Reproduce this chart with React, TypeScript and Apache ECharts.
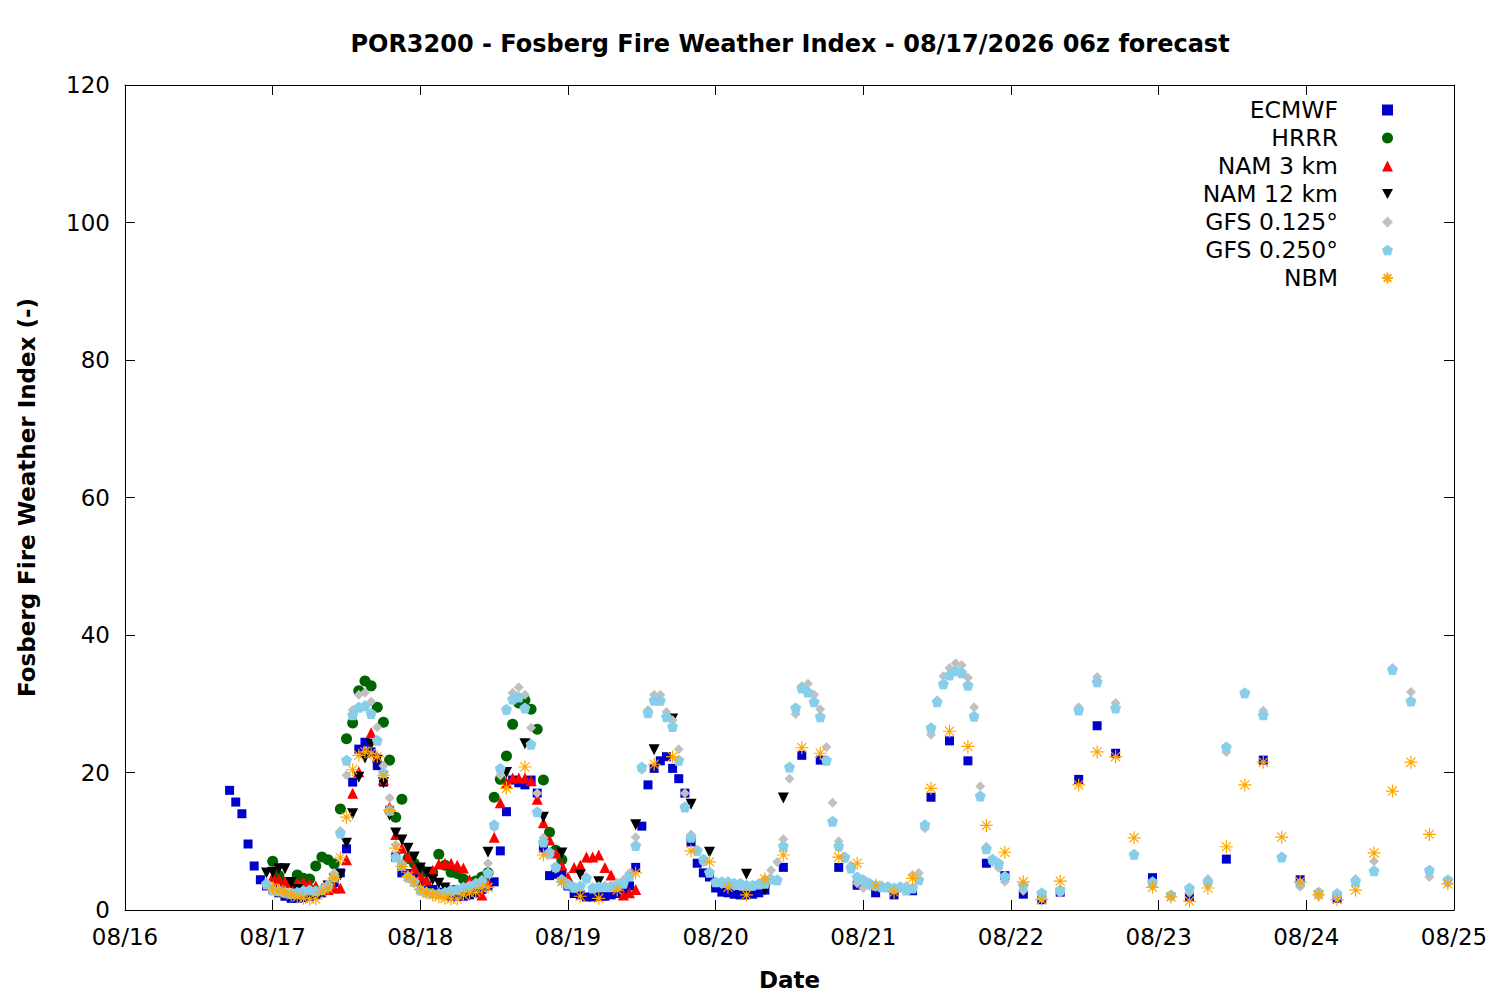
import React, { useEffect, useRef } from 'react';
import * as echarts from 'echarts';

// Hours since 08/16 00:00 (local) on the x axis
const xTickLabels = ['08/16', '08/17', '08/18', '08/19', '08/20', '08/21', '08/22', '08/23', '08/24', '08/25'];
const yTicks = [0, 20, 40, 60, 80, 100, 120];

const titleText = 'POR3200 - Fosberg Fire Weather Index - 08/17/2026 06z forecast';

// ECMWF: hourly from h17, 3-hourly from h107, 6-hourly from h167
const ecmwfHourlyStart = 17;
const ecmwfHourly = [
  17.4, 15.7, 14.0, 9.6, 6.4, 4.4, 3.5, 3.0, 2.5, 2.0,
  1.7, 1.7, 1.8, 2.0, 2.2, 2.5, 3.0, 4.0, 5.4, 8.9,
  18.6, 23.4, 24.4, 23.0, 21.0, 18.6, 14.5, 7.7, 5.4, 5.3,
  5.1, 4.0, 3.5, 3.0, 2.6, 2.3, 2.0, 2.0, 2.0, 2.2,
  2.5, 3.0, 3.5, 4.1, 8.6, 14.3, 18.9, 18.5, 18.2, 18.9,
  17.0, 9.0, 5.0, 5.2, 5.4, 3.5, 2.4, 2.2, 1.9, 1.9,
  2.0, 2.0, 2.2, 2.4, 2.8, 3.5, 6.2, 12.2, 18.2, 20.6,
  21.7, 22.3, 20.6, 19.1, 17.0, 9.9, 6.8, 5.4, 4.8, 3.2,
  2.6, 2.5, 2.3, 2.2, 2.2, 2.3, 2.5, 2.9,
];
const ecmwf3hStart = 107;
const ecmwf3h = [6.2, 22.5, 21.8, 6.2, 3.6, 2.5, 2.2, 2.8, 16.4, 24.6, 21.7, 6.8, 5.0, 2.3, 1.5, 2.6, 19.0, 26.8, 22.8];
const ecmwf6hStart = 167;
const ecmwf6h = [4.7, 1.9, 7.4, 21.8, 4.4, 1.7];

// HRRR: hourly from h24
const hrrrStart = 24;
const hrrr = [
  7.1, 5.0, 4.0, 4.0, 5.1, 4.6, 4.5, 6.4, 7.7, 7.3,
  6.7, 14.7, 24.9, 27.2, 31.9, 33.3, 32.6, 29.5, 27.3, 21.8,
  13.5, 16.1, 7.5, 6.8, 6.0, 5.5, 5.5, 8.1, 6.5, 5.5,
  5.3, 4.5, 4.0, 4.2, 4.8, 5.4, 16.4, 19.0, 22.4, 27.0,
  30.1, 30.5, 29.2, 26.3, 18.9, 11.3, 8.7, 7.3,
];

// NAM 3 km: hourly from h24
const nam3Start = 24;
const nam3 = [
  4.8, 4.5, 4.1, 4.0, 3.9, 4.1, 3.8, 3.5, 3.2, 3.0,
  3.2, 3.2, 7.3, 17.0, 20.1, 23.0, 25.8, 22.3, 19.0, 15.0,
  11.0, 9.0, 7.7, 6.0, 5.0, 4.4, 5.8, 6.7, 6.8, 6.8,
  6.5, 6.1, 4.4, 3.0, 2.2, 4.0, 10.6, 15.6, 18.5, 19.2,
  19.2, 19.2, 18.8, 16.1, 12.7, 10.2, 8.3, 6.5, 4.8, 6.2,
  6.5, 7.7, 7.7, 8.0, 6.2, 5.1, 3.5, 2.2, 2.5, 3.0,
];

// NAM 12 km: hourly from h23, then 3-hourly from h62
const nam12HourlyStart = 23;
const nam12Hourly = [
  5.4, 5.5, 6.0, 6.0, 4.0, 3.0, 2.5, 2.2, 2.2, 2.6,
  3.5, 4.5, 5.1, 9.7, 14.0, 19.3, 22.1, 24.1, 21.8, 18.5,
  13.8, 11.2, 10.2, 9.0, 7.7, 6.1, 5.5, 4.4, 3.9, 3.2,
  2.8, 2.4, 2.2, 2.2, 2.5, 3.5, 8.4,
];
const nam12_3hStart = 62;
const nam12_3h = [20.0, 24.2, 13.5, 8.3, 5.1, 4.1, 3.0, 12.4, 23.3, 27.8, 15.4, 8.4, 3.5, 5.2, 2.9, 16.3];

// GFS 0.125°: hourly from h23, 3-hourly from h146
const gfs125HourlyStart = 23;
const gfs125Hourly = [
  4.0, 3.0, 2.7, 2.5, 2.3, 2.4, 2.6, 2.8, 2.7, 3.0,
  3.8, 5.4, 11.5, 19.6, 29.1, 31.3, 31.6, 30.3, 26.6, 21.0,
  16.3, 9.5, 6.8, 5.0, 4.0, 3.0, 2.5, 2.2, 2.2, 2.4,
  2.6, 2.9, 3.2, 3.6, 4.0, 4.4, 6.8, 12.0, 19.6, 29.0,
  31.6, 32.4, 31.3, 26.5, 17.0, 10.5, 8.0, 6.0, 4.5, 3.8,
  3.2, 3.4, 4.4, 3.3, 3.3, 3.5, 3.6, 4.0, 4.4, 5.4,
  10.6, 20.4, 29.1, 31.3, 31.3, 28.8, 27.6, 23.4, 17.0, 11.0,
  8.5, 7.0, 5.5, 4.0, 3.8, 3.6, 3.5, 3.5, 3.4, 3.5,
  3.8, 4.5, 5.8, 7.0, 10.3, 19.1, 28.5, 32.6, 32.9, 31.3,
  29.2, 23.7, 15.6, 10.0, 7.5, 6.5, 3.9, 3.2, 3.5, 3.4,
  3.6, 3.3, 3.0, 3.3, 3.5, 5.1, 5.4, 11.9, 25.5, 30.5,
  34.0, 35.2, 35.9, 35.6, 33.8, 29.5, 18.0, 9.2, 7.0, 6.1,
  4.1,
];
const gfs125_3hStart = 146;
const gfs125_3h = [2.8, 1.7, 2.5, 29.5, 33.9, 30.1, 8.0, 3.5, 1.9, 2.5, 4.5, 23.0, 31.5, 29.0, 7.8, 3.4, 2.0, 1.9, 4.5, 7.1, 35.2, 31.7, 4.8, 3.9];

// GFS 0.250°: hourly from h23, 3-hourly from h146
const gfs250HourlyStart = 23;
const gfs250Hourly = [
  3.8, 2.9, 2.8, 2.6, 2.4, 2.6, 2.8, 2.9, 2.8, 3.0,
  3.5, 4.8, 11.2, 21.8, 28.4, 29.5, 29.7, 28.6, 24.7, 20.0,
  14.5, 7.7, 6.5, 4.8, 4.1, 2.9, 2.6, 2.4, 2.4, 2.6,
  2.9, 3.0, 3.3, 3.5, 3.8, 4.1, 5.4, 12.4, 20.6, 29.2,
  30.7, 31.0, 29.4, 24.1, 14.3, 9.9, 8.4, 6.3, 4.4, 3.8,
  3.3, 3.5, 4.7, 3.2, 3.4, 3.4, 3.4, 3.6, 3.9, 5.0,
  9.4, 20.8, 28.7, 30.5, 30.5, 28.1, 26.7, 21.8, 15.0, 10.6,
  8.7, 7.4, 5.5, 4.1, 4.1, 4.1, 3.9, 3.9, 3.6, 3.6,
  3.8, 3.9, 4.5, 4.4, 9.3, 20.8, 29.4, 32.3, 31.7, 30.3,
  28.1, 21.8, 12.9, 9.3, 7.7, 6.1, 4.8, 4.4, 3.9, 3.6,
  3.4, 3.4, 3.2, 3.4, 2.9, 3.2, 4.4, 12.4, 26.5, 30.3,
  32.9, 34.2, 34.8, 34.5, 32.7, 28.2, 16.6, 8.9, 7.4, 6.8,
  4.9,
];
const gfs250_3hStart = 146;
const gfs250_3h = [3.6, 2.5, 2.9, 29.1, 33.2, 29.4, 8.1, 4.1, 2.2, 3.2, 4.1, 23.7, 31.6, 28.4, 7.7, 3.9, 2.6, 2.4, 4.2, 5.7, 35.0, 30.4, 5.8, 4.4];

// NBM: hourly from h24, 3-hourly from h62
const nbmHourlyStart = 24;
const nbmHourly = [
  3.2, 2.9, 2.6, 2.2, 1.9, 1.7, 1.6, 1.6, 2.6, 3.2,
  4.6, 7.6, 13.5, 20.4, 22.5, 23.0, 22.8, 22.3, 19.6, 14.5,
  9.0, 6.3, 4.9, 4.1, 3.0, 2.5, 2.2, 1.9, 1.7, 1.6,
  1.6, 2.2, 2.5, 2.6, 3.2, 3.3,
];
const nbm3hStart = 62;
const nbm3h = [
  17.7, 20.8, 8.0, 4.1, 2.0, 1.7, 2.9, 5.4,
  21.2, 22.3, 8.6, 7.0, 3.3, 2.2, 4.5, 8.0,
  23.6, 22.8, 7.7, 6.8, 3.6, 2.6, 4.6, 17.7,
  26.0, 23.8, 12.3, 8.4, 4.1, 1.5, 4.2, 18.2,
  23.0, 22.3, 10.5, 3.3, 1.9, 1.3, 3.2, 9.2,
  18.2, 21.5, 10.6, 4.1, 2.2, 1.5, 2.9, 8.3,
  17.3, 21.5, 11.0, 3.8,
];

const FONT = '"DejaVu Sans", "Liberation Sans", sans-serif';

function seg(start: number, step: number, values: number[]): number[][] {
  return values.map((v, i) => [start + i * step, v]);
}

const downTriangle = 'path://M0,0L10,0L5,9Z';
const pentagon = 'path://M50,0L97.6,34.5L79.4,90.5L20.6,90.5L2.4,34.5Z';
const asterisk = 'path://M5,0L5,10M0,5L10,5M1.5,1.5L8.5,8.5M1.5,8.5L8.5,1.5';

export default function App() {
  const ref = useRef<HTMLDivElement>(null);
  useEffect(() => {
    document.body.style.margin = '0';
    if (!ref.current) return;
    const chart = echarts.init(ref.current, null, { renderer: 'svg' });

    const axisLine = { show: true, onZero: false, lineStyle: { color: '#000', width: 1 } };
    const tick = { show: true, inside: true, length: 10, lineStyle: { color: '#000', width: 1 } };

    const option: any = {
      animation: false,
      backgroundColor: '#fff',
      title: {
        text: titleText,
        left: 785,
        top: 27,
        textAlign: 'center',
        textStyle: { fontFamily: FONT, fontSize: 24, fontWeight: 'bold', color: '#000' },
      },
      grid: { left: 125, top: 85, width: 1329, height: 825, containLabel: false, show: false },
      legend: {
        orient: 'vertical',
        right: 106,
        top: 96,
        padding: 0,
        align: 'right',
        itemWidth: 11,
        itemHeight: 11,
        itemGap: 0,
        textStyle: { fontFamily: FONT, fontSize: 23.5, color: '#000', lineHeight: 28, padding: [0, 39, 0, 0] },
        data: ['ECMWF', 'HRRR', 'NAM 3 km', 'NAM 12 km', 'GFS 0.125°', 'GFS 0.250°', 'NBM'],
      },
      xAxis: [
        {
          type: 'value', min: 0, max: 216, interval: 24, position: 'bottom',
          axisLine, axisTick: tick, splitLine: { show: false },
          axisLabel: {
            margin: 15, fontFamily: FONT, fontSize: 23, color: '#000',
            formatter: (v: number) => xTickLabels[Math.round(v / 24)] ?? '',
          },
          name: 'Date', nameLocation: 'middle', nameGap: 58,
          nameTextStyle: { fontFamily: FONT, fontSize: 23, fontWeight: 'bold', color: '#000' },
        },
        {
          type: 'value', min: 0, max: 216, interval: 24, position: 'top',
          axisLine, axisTick: tick, splitLine: { show: false }, axisLabel: { show: false },
        },
      ],
      yAxis: [
        {
          type: 'value', min: yTicks[0], max: yTicks[yTicks.length - 1], interval: 20, position: 'left',
          axisLine, axisTick: tick, splitLine: { show: false },
          axisLabel: { margin: 15, fontFamily: FONT, fontSize: 23, color: '#000' },
          name: 'Fosberg Fire Weather Index (-)', nameLocation: 'middle', nameGap: 87,
          nameTextStyle: { fontFamily: FONT, fontSize: 23, fontWeight: 'bold', color: '#000' },
        },
        {
          type: 'value', min: yTicks[0], max: yTicks[yTicks.length - 1], interval: 20, position: 'right',
          axisLine, axisTick: tick, splitLine: { show: false }, axisLabel: { show: false },
        },
      ],
      series: [
        {
          name: 'ECMWF', type: 'scatter', symbol: 'rect', symbolSize: 9,
          itemStyle: { color: '#0000cc', opacity: 1 },
          data: [...seg(ecmwfHourlyStart, 1, ecmwfHourly), ...seg(ecmwf3hStart, 3, ecmwf3h), ...seg(ecmwf6hStart, 6, ecmwf6h)],
        },
        {
          name: 'HRRR', type: 'scatter', symbol: 'circle', symbolSize: 11,
          itemStyle: { color: '#006400', opacity: 1 },
          data: seg(hrrrStart, 1, hrrr),
        },
        {
          name: 'NAM 3 km', type: 'scatter', symbol: 'triangle', symbolSize: 11,
          itemStyle: { color: '#ff0000', opacity: 1 },
          data: seg(nam3Start, 1, nam3),
        },
        {
          name: 'NAM 12 km', type: 'scatter', symbol: downTriangle, symbolSize: 11,
          itemStyle: { color: '#000000', opacity: 1 },
          data: [...seg(nam12HourlyStart, 1, nam12Hourly), ...seg(nam12_3hStart, 3, nam12_3h)],
        },
        {
          name: 'GFS 0.125°', type: 'scatter', symbol: 'diamond', symbolSize: 10,
          itemStyle: { color: '#c0c0c0', opacity: 1 },
          data: [...seg(gfs125HourlyStart, 1, gfs125Hourly), ...seg(gfs125_3hStart, 3, gfs125_3h)],
        },
        {
          name: 'GFS 0.250°', type: 'scatter', symbol: pentagon, symbolSize: 11,
          itemStyle: { color: '#87ceeb', opacity: 1 },
          data: [...seg(gfs250HourlyStart, 1, gfs250Hourly), ...seg(gfs250_3hStart, 3, gfs250_3h)],
        },
        {
          name: 'NBM', type: 'scatter', symbol: asterisk, symbolSize: 13,
          itemStyle: { color: '#ffa500', borderColor: '#ffa500', borderWidth: 1.2, opacity: 1 },
          data: [...seg(nbmHourlyStart, 1, nbmHourly), ...seg(nbm3hStart, 3, nbm3h)],
        },
      ],
    };
    chart.setOption(option);
    return () => chart.dispose();
  }, []);
  return <div ref={ref} style={{ width: 1500, height: 1000 }} />;
}
